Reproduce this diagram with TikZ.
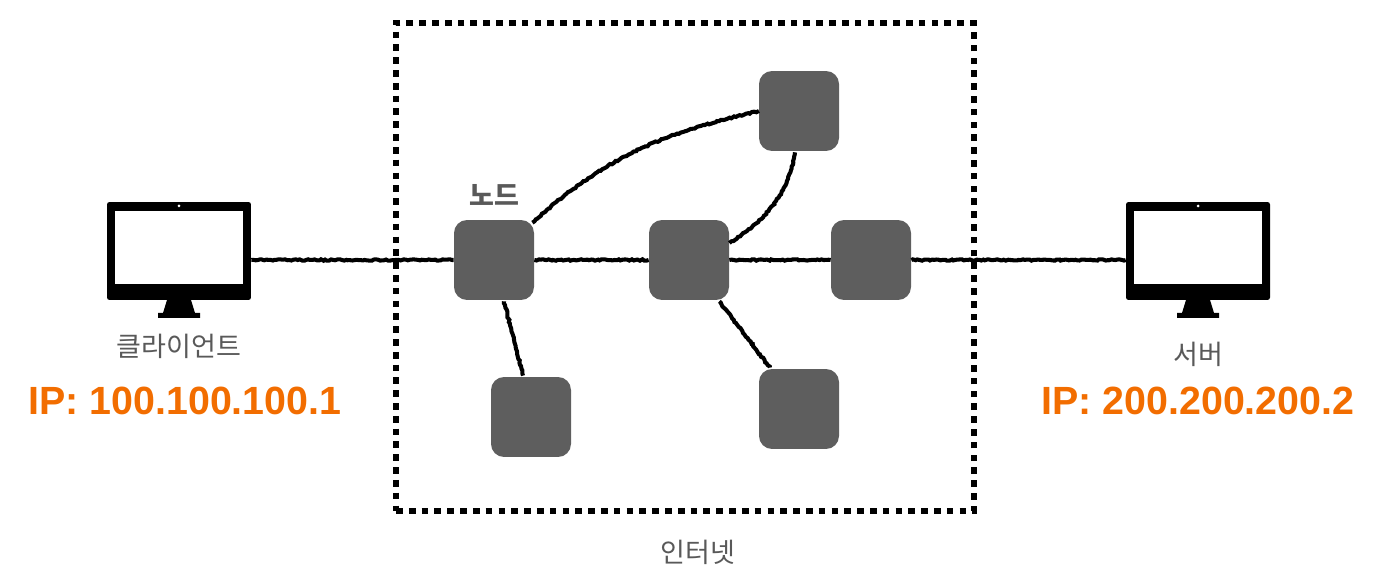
\documentclass[tikz,border=0pt]{standalone}
\usepackage{fontspec}
\setmainfont{Liberation Sans}
\newfontfamily\krfont{Noto Sans CJK KR}
\usetikzlibrary{decorations.pathmorphing}

\begin{document}
\begin{tikzpicture}[x=0.02cm, y=-0.02cm]

        % Setup the styles
        \tikzset{hop/.style={rectangle,
                             minimum size=1.6cm,
                             inner sep=0pt,
                             rounded corners=0.26cm,
                             fill=black!63},
                 wire/.style={line width=2.3pt,
                              black,
                              decorate,
                              decoration={random steps, segment length=1.2pt, amplitude=0.4pt}},
                 caption/.style={font=\krfont\fontsize{15.4}{18}\selectfont, text=black!65},
                 address/.style={font=\bfseries\fontsize{22.4}{26}\selectfont, text=orange!90!red!95!black},
                 pics/monitor/.style={code={
                     \node[rectangle, fill=black, rounded corners=0.05cm, inner sep=0pt,
                           minimum width=2.88cm, minimum height=1.96cm] (body) at (0, 0) {};
                     \fill[white] (-64, -40) rectangle (64, 33);
                     \fill[white] (0, -45) circle (1.5);
                     \fill[black] (-12, 49) -- (12, 49) -- (16, 62) -- (21, 62) -- (21, 67)
                                  -- (-21, 67) -- (-21, 62) -- (-16, 62) -- cycle;
                 }}}
        \pgfmathsetseed{7}

        \useasboundingbox (0, 0) rectangle (1375, 580);

        % Draw the internet box
        \node[rectangle, draw=black, line width=3.8pt, inner sep=0pt,
              dash pattern=on 3.8pt off 3.49pt,
              minimum width=11.56cm, minimum height=9.76cm] at (685, 267) (inet) {};

        % Draw the hops
        \node[hop] at (494, 260) (A) {};
        \node[hop] at (689, 260) (B) {};
        \node[hop] at (871, 260) (C) {};
        \node[hop] at (799, 111) (D) {};
        \node[hop] at (531, 417) (E) {};
        \node[hop] at (799, 409) (F) {};

        % Draw the computers
        \pic (client) at (179, 251) {monitor};
        \pic (server) at (1198, 251) {monitor};

        % Connect the hops
        \draw[wire] (clientbody.east |- A) -- (A);
        \draw[wire] (A) -- (B);
        \draw[wire] (B) -- (C);
        \draw[wire] (C) -- (serverbody.west |- C);
        \draw[wire] ([shift={(-2, 3)}]A.north east) to[out=42, in=193] (D.west);
        \draw[wire] ([shift={(-4, 1)}]D.south) to[out=-100, in=32] ([shift={(0, -17)}]B.east);
        \draw[wire] ([shift={(10, 1)}]A.south) -- ([shift={(-8, -1)}]E.north);
        \draw[wire] ([shift={(-10, 1)}]B.south east) -- ([shift={(-29, -1)}]F.north);

        % Labels
        \node[caption, font=\krfont\bfseries\fontsize{15.4}{18}\selectfont] at (494, 195) (nodelabel) {노드};
        \node[caption] at (179, 346) (clientlabel) {클라이언트};
        \node[caption] at (1198, 354) (serverlabel) {서버};
        \node[caption] at (698, 552) (inetlabel) {인터넷};
        \node[address] at (185, 401) (clientip) {IP: 100.100.100.1};
        \node[address] at (1198, 401) (serverip) {IP: 200.200.200.2};
    \end{tikzpicture}
\end{document}
